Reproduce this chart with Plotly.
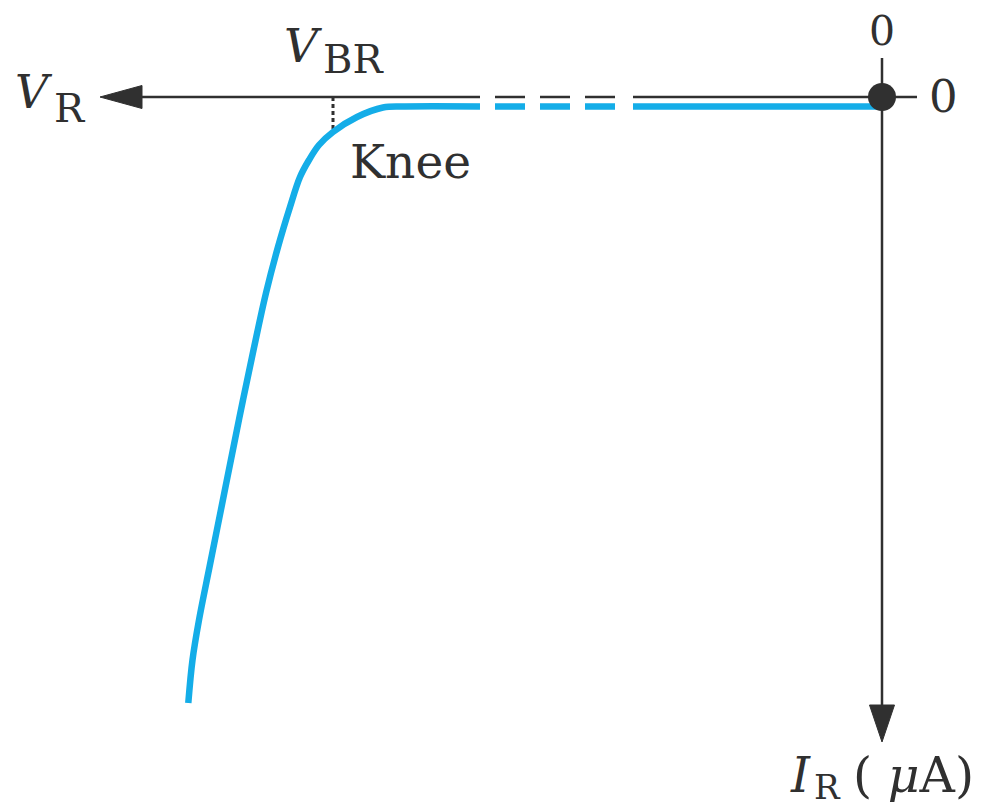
import plotly.graph_objects as go

# Reverse-bias characteristic of a diode (arbitrary units: V_R to the left, I_R downward)
V_CURVE = [69.37, 68.95, 68.3, 67.25, 66.05, 64.85, 63.9, 62.85, 61.6, 60.4, 59.2,
           58.2, 57.3, 56.3, 54.9, 52.5, 49.9, 47.7, 40.2]
I_CURVE = [60.6, 56.3, 52.3, 47.0, 41.0, 35.0, 30.3, 25.3, 19.6, 15.0, 11.0,
           8.0, 6.3, 4.8, 3.5, 2.0, 1.05, 0.95, 0.95]

I_LEAK = 0.95          # small reverse leakage current before breakdown
V_BR = 54.9            # breakdown voltage (knee)
I_KNEE = 3.5

# broken (dashed) stretch of the voltage axis and the leakage line
V_BREAK_START = 40.2
V_DASH = [38.7, 26.7]
V_BREAK_END = 24.9

# axis extents
V_AXIS_END = 74.0      # base of the V_R arrowhead
V_AXIS_TIP = 78.2
V_AXIS_RIGHT = -3.5
I_AXIS_TOP = -3.9
I_AXIS_END = 60.8      # base of the I_R arrowhead
I_AXIS_TIP = 64.5

X_RANGE = [88.2, -10.8]
Y_RANGE = [71.1, -9.7]

INK = "#303030"
CYAN = "#14ade8"
FONT = "DejaVu Serif"

AXIS_W = 2.5
CURVE_W = 6.5
HEAD_HALF_H = 1.15     # half-width of the horizontal arrowhead (I units)
HEAD_HALF_V = 1.25     # half-width of the vertical arrowhead (V units)

fig = go.Figure()


def seg(xs, ys, color, width, dash="solid", shape="linear"):
    fig.add_trace(go.Scatter(x=xs, y=ys, mode="lines", hoverinfo="skip",
                             line=dict(color=color, width=width, dash=dash, shape=shape)))


# voltage axis (solid, dashed break, solid)
seg([V_AXIS_END, V_BREAK_START], [0, 0], INK, AXIS_W)
seg(V_DASH, [0, 0], INK, AXIS_W, dash="30px,15px")
seg([V_BREAK_END, V_AXIS_RIGHT], [0, 0], INK, AXIS_W)

# current axis
seg([0, 0], [I_AXIS_TOP, I_AXIS_END], INK, AXIS_W)

# arrowheads
fig.add_trace(go.Scatter(x=[V_AXIS_TIP, V_AXIS_END, V_AXIS_END, V_AXIS_TIP],
                         y=[0, -HEAD_HALF_H, HEAD_HALF_H, 0],
                         mode="lines", fill="toself", fillcolor=INK,
                         line=dict(color=INK, width=1), hoverinfo="skip"))
fig.add_trace(go.Scatter(x=[0, -HEAD_HALF_V, HEAD_HALF_V, 0],
                         y=[I_AXIS_TIP, I_AXIS_END, I_AXIS_END, I_AXIS_TIP],
                         mode="lines", fill="toself", fillcolor=INK,
                         line=dict(color=INK, width=1), hoverinfo="skip"))

# knee marker at V_BR
seg([V_BR, V_BR], [0, I_KNEE], INK, 3, dash="4px,3px")

# characteristic curve
seg(V_CURVE, I_CURVE, CYAN, CURVE_W, shape="spline")
seg(V_DASH, [I_LEAK, I_LEAK], CYAN, CURVE_W, dash="30px,15px")
seg([V_BREAK_END, 0], [I_LEAK, I_LEAK], CYAN, CURVE_W)

# origin dot
fig.add_trace(go.Scatter(x=[0], y=[0], mode="markers", hoverinfo="skip",
                         marker=dict(size=28, color=INK)))


def label(text, x, y, size, xanchor="center"):
    fig.add_annotation(x=x, y=y, text=text, showarrow=False, xanchor=xanchor,
                       yanchor="middle", borderpad=0,
                       font=dict(family=FONT, size=size, color=INK))


# V_R
label("<i>V</i>", 82.8, -0.55, 46, xanchor="right")
label("R", 82.9, 1.05, 40, xanchor="left")
# V_BR
label("<i>V</i>", 55.9, -5.15, 47, xanchor="right")
label("BR", 56.0, -3.85, 40, xanchor="left")
label("Knee", 47.2, 6.4, 47)
label("0", 0.05, -6.6, 41)
label("0", -6.1, -0.05, 45)
# I_R (uA)
label("<i>I</i>", 7.0, 67.8, 48, xanchor="right")
label("R", 6.9, 69.0, 34, xanchor="left")
label("( <i>μ</i>A)", 3.0, 67.8, 49, xanchor="left")

fig.update_layout(
    width=990, height=808,
    margin=dict(l=0, r=0, t=0, b=0),
    paper_bgcolor="white", plot_bgcolor="white",
    showlegend=False,
    xaxis=dict(range=X_RANGE, visible=False, fixedrange=True),
    yaxis=dict(range=Y_RANGE, visible=False, fixedrange=True),
)

fig.write_html("out.html")
